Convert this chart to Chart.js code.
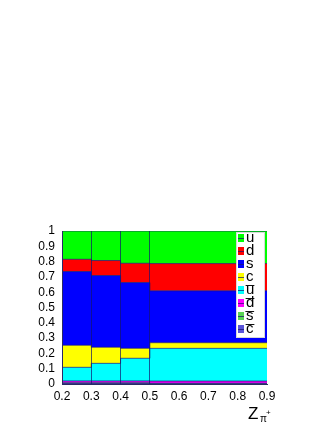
<!DOCTYPE html>
<html>
<head>
<meta charset="utf-8">
<script src="https://cdn.jsdelivr.net/npm/chart.js@4.4.1/dist/chart.umd.min.js"></script>
<style>
html,body{margin:0;padding:0;background:#fff;}
#wrap{width:332px;height:430px;}
</style>
</head>
<body>
<div id="wrap"><canvas id="c" width="332" height="430"></canvas></div>
<script>
// bin edges along z (variable-width bins)
const binEdges = [0.2, 0.3, 0.4, 0.5, 0.9];
// flavour labels, stacking order bottom -> top
const flavourLabels = ['c\u0305', 's\u0305', 'd\u0305', 'u\u0305', 'c', 's', 'd', 'u'];
// fractions per bin for each flavour
const cbarFrac = [0.003, 0.003, 0.003, 0.002];
const sbarFrac = [0.005, 0.005, 0.005, 0.003];
const dbarFrac = [0.012, 0.012, 0.012, 0.014];
const ubarFrac = [0.089, 0.115, 0.148, 0.214];
const cFrac    = [0.144, 0.105, 0.065, 0.037];
const sFrac    = [0.482, 0.469, 0.430, 0.339];
const dFrac    = [0.080, 0.098, 0.126, 0.178];
const uFrac    = [0.185, 0.193, 0.211, 0.213];
const xTicks = [0.2, 0.3, 0.4, 0.5, 0.6, 0.7, 0.8, 0.9];
const yTicks = [0, 0.1, 0.2, 0.3, 0.4, 0.5, 0.6, 0.7, 0.8, 0.9, 1];
const xTitle = {main: 'Z', sub: '\u03C0', sup: '+'};

const seriesValues = [cbarFrac, sbarFrac, dbarFrac, ubarFrac, cFrac, sFrac, dFrac, uFrac];
const seriesColors = ['#5954d9', '#59d454', '#ff00ff', '#00ffff', '#ffff00', '#0000ff', '#ff0000', '#00ff00'];
const lineColor = 'rgba(20,20,110,0.7)';

function stepPoints(vals) {
  return binEdges.map((e, i) => ({x: e, y: vals[Math.min(i, vals.length - 1)]}));
}

const datasets = seriesValues.map((vals, k) => ({
  label: flavourLabels[k],
  data: stepPoints(vals),
  backgroundColor: seriesColors[k],
  borderColor: lineColor,
  borderWidth: 1,
  pointRadius: 0,
  pointHoverRadius: 0,
  stepped: true,
  fill: k === 0 ? 'origin' : '-1'
}));

const innerEdges = binEdges.slice(1, -1);
const isInnerEdge = v => innerEdges.some(e => Math.abs(e - v) < 1e-6);

const insetLegend = {
  id: 'insetLegend',
  afterDraw(chart) {
    const ctx = chart.ctx;
    const a = chart.chartArea;
    const left = a.right - 31, top = a.top + 1, w = 29, h = 106;
    ctx.save();
    ctx.fillStyle = '#fff';
    ctx.fillRect(left, top, w, h);
    ctx.strokeStyle = '#d8d8d8';
    ctx.lineWidth = 1;
    ctx.strokeRect(left + 0.5, top + 0.5, w - 1, h - 1);
    const ds = chart.data.datasets;
    ctx.font = '15px "Liberation Sans", Arial, sans-serif';
    ctx.textBaseline = 'middle';
    ctx.textAlign = 'left';
    for (let j = 0; j < ds.length; j++) {
      const d = ds[ds.length - 1 - j];
      const cy = top + 6 + 13 * j;
      ctx.fillStyle = d.backgroundColor;
      ctx.fillRect(left + 2, cy - 4, 6, 8);
      ctx.strokeStyle = lineColor;
      ctx.beginPath();
      ctx.moveTo(left + 2, cy + 0.5);
      ctx.lineTo(left + 8, cy + 0.5);
      ctx.stroke();
      ctx.fillStyle = '#000';
      ctx.fillText(d.label, left + 10, cy);
    }
    // axis title
    const xr = a.right;
    ctx.textBaseline = 'alphabetic';
    ctx.font = '17px "Liberation Sans", Arial, sans-serif';
    ctx.fillText(xTitle.main, xr - 19, 419);
    ctx.font = '10px "Liberation Sans", Arial, sans-serif';
    ctx.fillText(xTitle.sub, xr - 7, 422);
    ctx.font = '8px "Liberation Sans", Arial, sans-serif';
    ctx.fillText(xTitle.sup, xr - 1, 415);
    ctx.restore();
  }
};

Chart.defaults.font.family = '"Liberation Sans", Arial, sans-serif';
Chart.defaults.color = '#000';

new Chart(document.getElementById('c'), {
  type: 'line',
  data: {datasets},
  options: {
    responsive: false,
    animation: false,
    devicePixelRatio: 1,
    layout: {padding: {left: 0, top: 231, right: 65, bottom: 0}},
    plugins: {legend: {display: false}, tooltip: {enabled: false}},
    elements: {line: {tension: 0}},
    scales: {
      x: {
        type: 'linear',
        min: binEdges[0],
        max: binEdges[binEdges.length - 1],
        afterBuildTicks: s => { s.ticks = xTicks.map(v => ({value: v})); },
        afterFit: s => { s.height = 46; },
        ticks: {autoSkip: false, maxRotation: 0, padding: 5, font: {size: 12},
                callback: v => String(Math.round(v * 10) / 10)},
        grid: {
          z: 1,
          drawTicks: false,
          color: c => (c.tick && isInnerEdge(c.tick.value)) ? lineColor : 'rgba(0,0,0,0)',
          lineWidth: 1
        },
        border: {display: true, color: '#2a2a66', width: 1, z: 2}
      },
      y: {
        type: 'linear',
        stacked: true,
        min: 0,
        max: 1,
        afterBuildTicks: s => { s.ticks = yTicks.map(v => ({value: v})); },
        afterFit: s => { s.width = 62; },
        ticks: {autoSkip: false, padding: 7, font: {size: 12},
                callback: v => String(Math.round(v * 10) / 10)},
        grid: {display: false, drawTicks: false},
        border: {display: true, color: '#2a2a66', width: 1, z: 2}
      }
    }
  },
  plugins: [insetLegend]
});
</script>
</body>
</html>
